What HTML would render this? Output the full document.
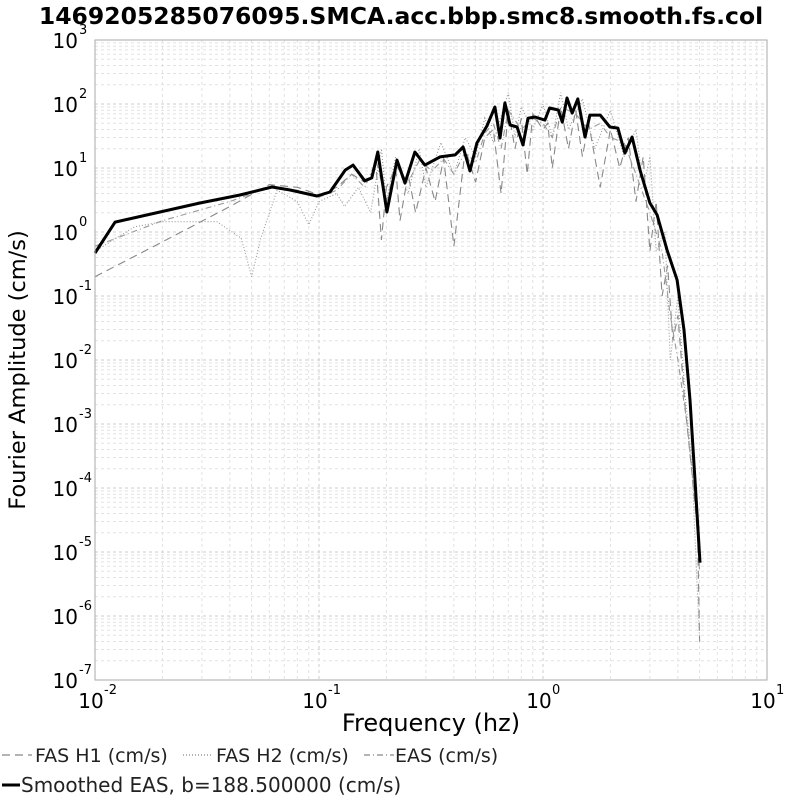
<!DOCTYPE html>
<html><head><meta charset="utf-8"><style>
body{margin:0;background:#fff;}
svg{display:block;font-family:"DejaVu Sans","Liberation Sans",sans-serif;}
</style></head><body>
<svg id="chart" width="800" height="800" xmlns="http://www.w3.org/2000/svg">
<text x="401" y="24" text-anchor="middle" font-size="23.5" font-weight="bold">1469205285076095.SMCA.acc.bbp.smc8.smooth.fs.col</text>
<g id="grid"></g>
<g id="series"></g>
<rect x="95" y="40" width="672" height="640" fill="none" stroke="#aaa" stroke-width="1"/>
<g id="ticks"></g>
<text x="431" y="731" text-anchor="middle" font-size="24">Frequency (hz)</text>
<text transform="translate(25,370) rotate(-90)" text-anchor="middle" font-size="22.5">Fourier Amplitude (cm/s)</text>
<g>
<g><line x1="2" y1="755" x2="32" y2="755" stroke="#888" stroke-width="1.2" stroke-dasharray="8,5"/><text x="35" y="762" font-size="19" fill="#222">FAS H1 (cm/s)</text></g>
<g><line x1="183" y1="755" x2="213" y2="755" stroke="#888" stroke-width="1.2" stroke-dasharray="1,2"/><text x="216" y="762" font-size="19" fill="#222">FAS H2 (cm/s)</text></g>
<g><line x1="364" y1="755" x2="394" y2="755" stroke="#888" stroke-width="1.2" stroke-dasharray="6,3,1,3"/><text x="395" y="762" font-size="19" fill="#222">EAS (cm/s)</text></g>
<g><line x1="2" y1="785" x2="20" y2="785" stroke="#000" stroke-width="3"/><text x="21" y="792" font-size="20" fill="#222">Smoothed EAS, b=188.500000 (cm/s)</text></g>
</g>
</svg>
<script>
const xTickExps=[-2,-1,0,1];
const yTickExps=[3,2,1,0,-1,-2,-3,-4,-5,-6,-7];
const smoothF=[0.01,0.0123,0.0195,0.0294,0.0444,0.0617,0.0743,0.098,0.112,0.131,0.142,0.160,0.172,0.183,0.201,0.223,0.242,0.268,0.297,0.347,0.405,0.440,0.472,0.507,0.562,0.610,0.643,0.676,0.713,0.766,0.814,0.857,0.920,1.02,1.07,1.17,1.22,1.28,1.35,1.43,1.54,1.62,1.80,1.99,2.16,2.32,2.50,2.71,3.00,3.23,3.58,3.97,4.26,4.53,4.77,5.02];
const smoothA=[0.47,1.43,2.05,2.84,3.79,5.05,4.53,3.65,4.22,9.3,11.1,6.3,7.0,17.8,2.05,13.3,5.8,17.8,11.1,14.9,16.0,21.3,9.0,24.6,45.3,89.8,29.4,104,47,43.7,22.9,60,62.6,56,86.6,80.6,52,124,72,120,30.5,67,67,43.7,42,17.1,30.5,9.3,2.84,1.85,0.52,0.178,0.0294,0.00237,1.33e-4,6.8e-6];
const h1F=[0.01,0.02,0.04,0.06,0.08,0.1,0.12,0.14,0.16,0.18,0.19,0.2,0.22,0.23,0.25,0.27,0.3,0.33,0.36,0.4,0.45,0.5,0.55,0.6,0.65,0.7,0.75,0.8,0.85,0.9,1.0,1.05,1.1,1.2,1.3,1.4,1.5,1.6,1.8,2.0,2.2,2.4,2.6,2.8,3.0,3.2,3.4,3.6,3.8,4.0,4.3,4.6,4.9,5.0];
const h1A=[0.2,0.7,2.5,5.5,5.0,3.8,5,8,6,10,0.75,5,10,1.5,8,2,10,3,14,0.6,20,6,30,40,4,80,20,60,8,70,40,50,10,90,20,80,15,50,5,40,10,30,3,15,0.5,3,0.1,0.3,0.02,0.05,0.002,2e-4,2e-5,4e-7];
const h2F=[0.01,0.015,0.02,0.035,0.045,0.05,0.055,0.065,0.08,0.09,0.1,0.12,0.13,0.15,0.17,0.19,0.2,0.22,0.25,0.28,0.3,0.35,0.4,0.45,0.5,0.55,0.6,0.7,0.75,0.8,0.9,1.0,1.1,1.2,1.3,1.5,1.7,2.0,2.3,2.6,2.8,3.0,3.2,3.5,3.7,4.0,4.3,4.6,5.0];
const h2A=[0.5,1.2,1.45,1.45,0.8,0.2,0.8,4.5,3,1.3,3,4,2.5,5,2,20,3,15,4,20,5,25,8,30,15,60,25,150,30,90,40,100,30,150,40,120,20,80,15,40,5,15,0.5,1,0.01,0.1,0.003,3e-4,4e-7];
const easF=[0.01,0.02,0.04,0.06,0.08,0.1,0.12,0.14,0.16,0.18,0.2,0.22,0.25,0.28,0.32,0.36,0.4,0.45,0.5,0.55,0.6,0.65,0.7,0.8,0.9,1.0,1.1,1.2,1.4,1.6,1.8,2.0,2.3,2.6,3.0,3.4,3.7,4.0,4.4,4.8,5.0];
const easA=[0.6,1.5,3,5,4.5,3.5,4.5,8,5,13,3,11,6,13,9,14,8,18,12,35,50,20,80,40,60,50,30,90,70,40,50,30,25,8,2,0.5,0.05,0.01,0.001,5e-5,5e-6];

const X0=95,X1=767,Y0=40,Y1=680;
function xs(f){return X0+(Math.log10(f)+2)/3*(X1-X0);}
function ys(a){return Y0+(3-Math.log10(a))/10*(Y1-Y0);}
const NS="http://www.w3.org/2000/svg";
function mk(tag,attrs,parent){const e=document.createElementNS(NS,tag);for(const k in attrs)e.setAttribute(k,attrs[k]);parent.appendChild(e);return e;}
const grid=document.getElementById('grid');
for(let d=-2;d<1;d++)for(let m=1;m<10;m++){const x=xs(m*Math.pow(10,d));if(m===1&&d===-2)continue;
 const l=mk('line',{x1:x,x2:x,y1:Y0,y2:Y1,stroke:m===1?'#ccc':'#e2e2e2','stroke-dasharray':'3,3','stroke-width':1},grid);
 
 }
for(let d=-7;d<3;d++)for(let m=1;m<10;m++){const y=ys(m*Math.pow(10,d));if(m===1&&d===-7)continue;
 const l=mk('line',{x1:X0,x2:X1,y1:y,y2:y,stroke:m===1?'#ccc':'#e2e2e2','stroke-dasharray':'3,3','stroke-width':1},grid);
 
 }
const ticks=document.getElementById('ticks');
xTickExps.forEach(e=>{const x=xs(Math.pow(10,e));
 const t=mk('text',{x:x-4,y:708,'text-anchor':'middle','font-size':20},ticks);t.textContent='10';
 
 
 const s=mk('text',{x:x+9,y:694,'font-size':13},ticks);s.textContent=String(e);
 
 });
yTickExps.forEach(e=>{const y=ys(Math.pow(10,e));
 const t=mk('text',{x:78,y:y+8,'text-anchor':'end','font-size':20},ticks);t.textContent='10';
 
 
 const s=mk('text',{x:79,y:y-6,'font-size':13},ticks);s.textContent=String(e);
 
 });
const ser=document.getElementById('series');
function path(F,A){return F.map((f,i)=>(i?'L':'M')+xs(f).toFixed(1)+','+ys(A[i]).toFixed(1)).join('');}
const p1=mk('path',{d:path(h1F,h1A),fill:'none',stroke:'#888','stroke-width':1.1,'stroke-dasharray':'8,5'},ser);


const p2=mk('path',{d:path(h2F,h2A),fill:'none',stroke:'#999','stroke-width':1.1,'stroke-dasharray':'1,2'},ser);


const p3=mk('path',{d:path(easF,easA),fill:'none',stroke:'#999','stroke-width':1.1,'stroke-dasharray':'6,3,1,3'},ser);


const p4=mk('path',{d:path(smoothF,smoothA),fill:'none',stroke:'#000','stroke-width':3,'stroke-linejoin':'round'},ser);


</script>
</body></html>
